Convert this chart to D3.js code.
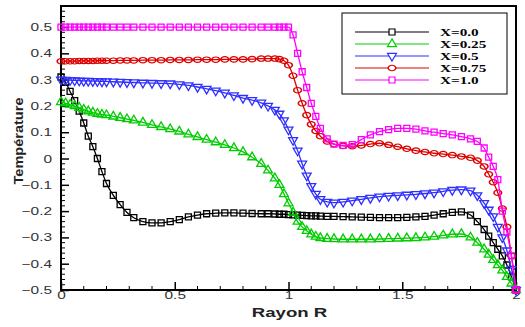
<!doctype html>
<html>
  <head>
    <meta charset="UTF-8"/>
    <title>Temperature</title>
    <script src="https://d3js.org/d3.v7.min.js"></script>
    <style>
      body { margin: 0; padding: 0; background: #fff; }
      svg { display: block; }
      .tick text { font-family: "Liberation Sans", Arial, sans-serif; font-size: 11px; fill: #333; }
    </style>
  </head>
  <body>
    <svg id="chart" width="525" height="327"></svg>
    <script>
      // rayon R (shared grid for all curves)
      const rayon = [0, 0.02, 0.04, 0.06, 0.08, 0.10, 0.12, 0.14, 0.16, 0.18, 0.20, 0.23, 0.26, 0.29, 0.32, 0.36, 0.40, 0.44, 0.48, 0.52,
        0.56, 0.60, 0.64, 0.68, 0.72, 0.76, 0.80, 0.84, 0.88, 0.91, 0.94, 0.96, 0.98, 1.00, 1.02, 1.04, 1.06, 1.08, 1.10, 1.12,
        1.14, 1.17, 1.20, 1.24, 1.28, 1.32, 1.36, 1.40, 1.44, 1.48, 1.52, 1.56, 1.60, 1.64, 1.68, 1.72, 1.76, 1.80, 1.83, 1.86,
        1.88, 1.90, 1.92, 1.94, 1.96, 1.98, 2.00];

      const tX00 = [0.31, 0.29, 0.255, 0.22, 0.18, 0.135, 0.085, 0.045, 0.0, -0.05, -0.095, -0.14, -0.175, -0.205, -0.225, -0.24, -0.245, -0.245, -0.24, -0.232,
        -0.222, -0.215, -0.21, -0.208, -0.207, -0.207, -0.208, -0.209, -0.21, -0.21, -0.211, -0.212, -0.212, -0.213, -0.214, -0.215, -0.216, -0.217, -0.218, -0.218,
        -0.219, -0.22, -0.22, -0.221, -0.222, -0.223, -0.224, -0.225, -0.225, -0.225, -0.224, -0.222, -0.22, -0.215, -0.21, -0.205, -0.203, -0.215, -0.24, -0.27,
        -0.295, -0.32, -0.345, -0.37, -0.405, -0.45, -0.5];

      const tX025 = [0.215, 0.21, 0.205, 0.2, 0.193, 0.186, 0.18, 0.175, 0.17, 0.167, 0.165, 0.16, 0.155, 0.15, 0.145, 0.137, 0.128, 0.12, 0.112, 0.103,
        0.092, 0.082, 0.072, 0.062, 0.052, 0.04, 0.025, 0.005, -0.02, -0.045, -0.075, -0.1, -0.135, -0.17, -0.205, -0.24, -0.26, -0.275, -0.288, -0.297,
        -0.302, -0.305, -0.306, -0.307, -0.307, -0.307, -0.307, -0.306, -0.305, -0.304, -0.303, -0.302, -0.3, -0.297, -0.292, -0.288, -0.287, -0.3, -0.32, -0.345,
        -0.365, -0.385, -0.405, -0.425, -0.45, -0.475, -0.5];

      const tX05 = [0.3, 0.299, 0.298, 0.297, 0.296, 0.295, 0.295, 0.294, 0.294, 0.293, 0.293, 0.292, 0.291, 0.29, 0.289, 0.288, 0.287, 0.286, 0.285, 0.282,
        0.278, 0.272, 0.265, 0.258, 0.25, 0.24, 0.23, 0.222, 0.212, 0.2, 0.185, 0.17, 0.145, 0.11, 0.07, 0.03, -0.02, -0.065, -0.105, -0.135,
        -0.155, -0.165, -0.168, -0.165, -0.16, -0.155, -0.15, -0.145, -0.142, -0.14, -0.138, -0.136, -0.133, -0.13, -0.125, -0.12, -0.118, -0.122, -0.14, -0.17,
        -0.195, -0.22, -0.26, -0.3, -0.35, -0.42, -0.5];

      const tX075 = [0.37, 0.37, 0.37, 0.37, 0.371, 0.371, 0.371, 0.371, 0.372, 0.372, 0.372, 0.372, 0.373, 0.373, 0.373, 0.374, 0.374, 0.374, 0.375, 0.375,
        0.375, 0.376, 0.376, 0.376, 0.377, 0.377, 0.377, 0.378, 0.38, 0.38, 0.38, 0.378, 0.372, 0.355, 0.315, 0.26, 0.21, 0.165, 0.13, 0.105,
        0.085, 0.065, 0.055, 0.048, 0.047, 0.05, 0.055, 0.058, 0.052, 0.045, 0.037, 0.03, 0.025, 0.02, 0.017, 0.013, 0.008, 0.003, -0.008, -0.03,
        -0.06, -0.09, -0.13, -0.19, -0.26, -0.37, -0.5];

      const tX10 = [0.5, 0.5, 0.5, 0.5, 0.5, 0.5, 0.5, 0.5, 0.5, 0.5, 0.5, 0.5, 0.5, 0.5, 0.5, 0.5, 0.5, 0.5, 0.5, 0.5,
        0.5, 0.5, 0.5, 0.5, 0.5, 0.5, 0.5, 0.5, 0.5, 0.5, 0.5, 0.5, 0.5, 0.5, 0.47, 0.4, 0.33, 0.27, 0.21, 0.16,
        0.115, 0.075, 0.055, 0.05, 0.053, 0.072, 0.09, 0.102, 0.11, 0.115, 0.115, 0.112, 0.105, 0.1, 0.095, 0.09, 0.083, 0.075, 0.065, 0.04,
        0.005, -0.03, -0.08, -0.2, -0.28, -0.37, -0.5];

      const seriesNames = ["X=0.0", "X=0.25", "X=0.5", "X=0.75", "X=1.0"];
      const seriesValues = [tX00, tX025, tX05, tX075, tX10];
      const seriesColors = ["#000000", "#00cc00", "#2f2fff", "#dd0000", "#ff00ff"];
      const seriesSymbols = ["square", "triangle", "triangleDown", "diamond", "square"];

      const xTicks = [0, 0.5, 1, 1.5, 2];
      const yTicks = [-0.5, -0.4, -0.3, -0.2, -0.1, 0, 0.1, 0.2, 0.3, 0.4, 0.5];

      const svg = d3.select("#chart");
      const mLeft = 61, mRight = 516, mTop = 6, mBottom = 290;

      const x = d3.scaleLinear().domain([0, 2]).range([mLeft, mRight]);
      const y = d3.scaleLinear().domain([-0.5, 0.58]).range([mBottom, mTop]);

      // the original figure is drawn horizontally stretched, so are its texts
      const stretch = (sel, k) => sel.each(function () {
        const w = this.getComputedTextLength();
        d3.select(this).attr("textLength", w * k).attr("lengthAdjust", "spacingAndGlyphs");
      });

      // minor ticks
      const xMinor = d3.range(0, 2.0001, 0.1).filter(v => Math.abs(v * 2 - Math.round(v * 2)) > 1e-6);
      const yMinor = d3.range(-0.5, 0.5801, 0.02).filter(v => Math.abs(v * 10 - Math.round(v * 10)) > 1e-6);

      svg.append("g")
        .selectAll("line").data(xMinor).join("line")
        .attr("x1", d => x(d)).attr("x2", d => x(d))
        .attr("y1", mBottom).attr("y2", mBottom - 4)
        .attr("stroke", "#000").attr("stroke-width", 1);
      svg.append("g")
        .selectAll("line").data(yMinor).join("line")
        .attr("x1", mLeft).attr("x2", mLeft + 4)
        .attr("y1", d => y(d)).attr("y2", d => y(d))
        .attr("stroke", "#000").attr("stroke-width", 1);

      const xAxis = d3.axisBottom(x).tickValues(xTicks).tickSizeInner(-8).tickSizeOuter(0)
        .tickPadding(1).tickFormat(d3.format("~g"));
      const gx = svg.append("g").attr("transform", `translate(0,${mBottom})`).call(xAxis);
      gx.select(".domain").remove();
      gx.selectAll(".tick line").attr("stroke", "#000").attr("stroke-width", 1.5);
      stretch(gx.selectAll(".tick text"), 1.4);

      const yAxis = d3.axisLeft(y).tickValues(yTicks).tickSizeInner(-8).tickSizeOuter(0)
        .tickPadding(9).tickFormat(d3.format("~g"));
      const gy = svg.append("g").attr("transform", `translate(${mLeft},0)`).call(yAxis);
      gy.select(".domain").remove();
      gy.selectAll(".tick line").attr("stroke", "#000").attr("stroke-width", 1.5);
      stretch(gy.selectAll(".tick text"), 1.4);

      // frame
      svg.append("rect")
        .attr("x", mLeft).attr("y", mTop)
        .attr("width", mRight - mLeft).attr("height", mBottom - mTop)
        .attr("fill", "none").attr("stroke", "#000").attr("stroke-width", 2);

      const symbolFor = name => {
        if (name === "square") return d3.symbol().type(d3.symbolSquare).size(36)();
        if (name === "triangle") return d3.symbol().type(d3.symbolTriangle).size(34)();
        if (name === "triangleDown") return d3.symbol().type(d3.symbolTriangle).size(34)();
        return d3.symbol().type(d3.symbolCircle).size(32)();
      };
      const symbolTransform = name =>
        (name === "triangleDown" ? " rotate(180)" : "") + (name === "diamond" ? " scale(1.2,0.85)" : "");

      const line = d3.line().x(d => x(d[0])).y(d => y(d[1])).curve(d3.curveMonotoneX);

      const plot = svg.append("g");
      seriesValues.forEach((vals, i) => {
        const pts = rayon.map((r, j) => [r, vals[j]]);
        const g = plot.append("g");
        g.append("path").datum(pts)
          .attr("d", line)
          .attr("fill", "none")
          .attr("stroke", seriesColors[i])
          .attr("stroke-width", 1.3);
        g.selectAll("path.mk").data(pts).join("path")
          .attr("class", "mk")
          .attr("d", symbolFor(seriesSymbols[i]))
          .attr("transform", d => `translate(${x(d[0])},${y(d[1])})` + symbolTransform(seriesSymbols[i]))
          .attr("fill", "none")
          .attr("stroke", seriesColors[i])
          .attr("stroke-width", 1.3);
      });

      // legend
      const legend = svg.append("g");
      legend.append("rect")
        .attr("x", 342).attr("y", 13).attr("width", 165).attr("height", 81)
        .attr("fill", "#fff").attr("stroke", "#000").attr("stroke-width", 1);
      seriesNames.forEach((name, i) => {
        const ly = 32 + i * 12;
        legend.append("line")
          .attr("x1", 355).attr("x2", 429).attr("y1", ly).attr("y2", ly)
          .attr("stroke", seriesColors[i]).attr("stroke-width", 1.2);
        legend.append("path")
          .attr("d", symbolFor(seriesSymbols[i]))
          .attr("transform", `translate(392,${ly})` + symbolTransform(seriesSymbols[i]))
          .attr("fill", "#fff").attr("stroke", seriesColors[i]).attr("stroke-width", 1.2);
        const t = legend.append("text")
          .attr("x", 440).attr("y", ly + 4)
          .attr("font-family", "'Liberation Serif', 'Times New Roman', serif")
          .attr("font-weight", "bold").attr("font-size", 10.5)
          .attr("fill", "#000")
          .text(name);
        stretch(t, 1.45);
      });

      // axis titles
      const xTitle = svg.append("text")
        .attr("x", (mLeft + mRight) / 2 + 1).attr("y", 316.5)
        .attr("text-anchor", "middle")
        .attr("font-family", "'Liberation Sans', Arial, sans-serif")
        .attr("font-weight", "bold").attr("font-size", 13.5)
        .attr("fill", "#222")
        .text("Rayon R");
      stretch(xTitle, 1.38);
      const yTitle = svg.append("text")
        .attr("transform", `translate(23,141) rotate(-90)`)
        .attr("text-anchor", "middle")
        .attr("font-family", "'Liberation Sans', Arial, sans-serif")
        .attr("font-weight", "bold").attr("font-size", 12)
        .attr("fill", "#222")
        .text("Température");
      yTitle.attr("textLength", 87).attr("lengthAdjust", "spacingAndGlyphs");
    </script>
  </body>
</html>
